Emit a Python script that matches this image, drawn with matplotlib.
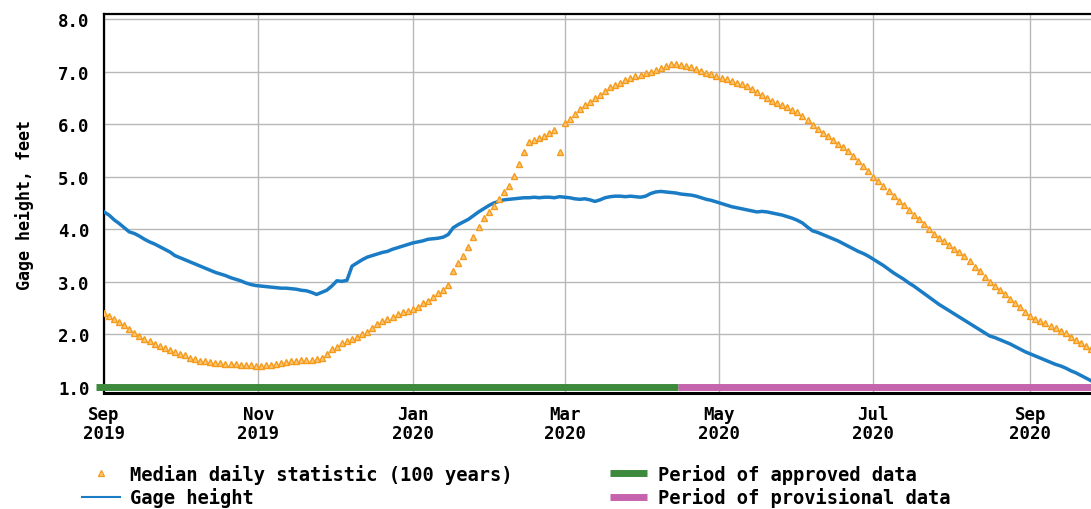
import numpy as np
import matplotlib
matplotlib.use('Agg')
import matplotlib.pyplot as plt
import pandas as pd
from matplotlib.lines import Line2D

# ---------------- data ----------------
start_date = '2019-09-01'
day_step = 2          # one reading every 2 days, from Sep 1 2019 to Sep 25 2020

median_daily_ft = [
    2.40, 2.35, 2.29, 2.24, 2.17, 2.10, 2.03, 1.97, 1.92, 1.87,
    1.82, 1.78, 1.74, 1.70, 1.66, 1.63, 1.60, 1.56, 1.53, 1.50,
    1.49, 1.48, 1.46, 1.45, 1.44, 1.44, 1.43, 1.42, 1.41, 1.41,
    1.40, 1.40, 1.41, 1.42, 1.44, 1.46, 1.48, 1.49, 1.50, 1.51,
    1.51, 1.52, 1.53, 1.55, 1.63, 1.72, 1.77, 1.83, 1.88, 1.92,
    1.96, 2.01, 2.05, 2.13, 2.20, 2.26, 2.30, 2.34, 2.38, 2.42,
    2.45, 2.48, 2.53, 2.59, 2.64, 2.71, 2.78, 2.85, 2.94, 3.21,
    3.35, 3.49, 3.67, 3.86, 4.05, 4.21, 4.33, 4.44, 4.57, 4.70,
    4.83, 5.01, 5.24, 5.47, 5.66, 5.70, 5.74, 5.77, 5.83, 5.88,
    5.47, 6.02, 6.10, 6.20, 6.29, 6.36, 6.42, 6.49, 6.55, 6.63,
    6.70, 6.75, 6.79, 6.84, 6.88, 6.91, 6.94, 6.97, 7.00, 7.03,
    7.07, 7.11, 7.14, 7.14, 7.12, 7.11, 7.08, 7.05, 7.01, 6.98,
    6.95, 6.91, 6.88, 6.85, 6.83, 6.79, 6.76, 6.73, 6.67, 6.62,
    6.56, 6.50, 6.44, 6.40, 6.36, 6.32, 6.27, 6.23, 6.15, 6.07,
    5.99, 5.91, 5.84, 5.77, 5.70, 5.63, 5.56, 5.49, 5.40, 5.30,
    5.20, 5.10, 5.00, 4.91, 4.82, 4.72, 4.63, 4.53, 4.46, 4.37,
    4.28, 4.19, 4.10, 4.00, 3.91, 3.84, 3.77, 3.70, 3.63, 3.56,
    3.49, 3.39, 3.29, 3.20, 3.10, 3.00, 2.92, 2.84, 2.76, 2.68,
    2.60, 2.52, 2.43, 2.35, 2.30, 2.26, 2.21, 2.16, 2.12, 2.07,
    2.02, 1.96, 1.90, 1.84, 1.78, 1.72,
]

gage_height_ft = [
    4.33, 4.27, 4.18, 4.11, 4.03, 3.95, 3.92, 3.87, 3.81, 3.76,
    3.72, 3.67, 3.62, 3.57, 3.50, 3.46, 3.42, 3.38, 3.34, 3.30,
    3.26, 3.22, 3.18, 3.15, 3.12, 3.08, 3.05, 3.02, 2.98, 2.95,
    2.93, 2.92, 2.91, 2.90, 2.89, 2.88, 2.88, 2.87, 2.86, 2.84,
    2.83, 2.80, 2.76, 2.80, 2.84, 2.92, 3.02, 3.01, 3.03, 3.30,
    3.36, 3.42, 3.47, 3.50, 3.53, 3.56, 3.58, 3.62, 3.65, 3.68,
    3.71, 3.74, 3.76, 3.78, 3.81, 3.82, 3.83, 3.85, 3.90, 4.03,
    4.09, 4.14, 4.19, 4.26, 4.33, 4.39, 4.45, 4.50, 4.53, 4.56,
    4.57, 4.58, 4.59, 4.60, 4.60, 4.61, 4.60, 4.61, 4.61, 4.60,
    4.62, 4.61, 4.60, 4.58, 4.57, 4.58, 4.56, 4.53, 4.56, 4.60,
    4.62, 4.63, 4.63, 4.62, 4.63, 4.62, 4.61, 4.63, 4.68, 4.71,
    4.72, 4.71, 4.70, 4.69, 4.67, 4.66, 4.65, 4.63, 4.60, 4.57,
    4.55, 4.52, 4.49, 4.46, 4.43, 4.41, 4.39, 4.37, 4.35, 4.33,
    4.34, 4.33, 4.31, 4.29, 4.27, 4.24, 4.21, 4.17, 4.12, 4.04,
    3.97, 3.94, 3.90, 3.86, 3.82, 3.78, 3.73, 3.68, 3.63, 3.58,
    3.54, 3.49, 3.43, 3.37, 3.31, 3.24, 3.17, 3.11, 3.05, 2.98,
    2.92, 2.85, 2.78, 2.71, 2.64, 2.57, 2.51, 2.45, 2.39, 2.33,
    2.27, 2.21, 2.15, 2.09, 2.03, 1.97, 1.94, 1.90, 1.86, 1.82,
    1.77, 1.72, 1.67, 1.63, 1.59, 1.55, 1.51, 1.47, 1.43, 1.40,
    1.36, 1.31, 1.27, 1.22, 1.17, 1.12,
]

approved_period = ['2019-08-29', '2020-04-15']
provisional_period = ['2020-04-15', '2020-09-26']
period_level = [1.0, 1.0]

tick_dates = ['2019-09-01', '2019-11-01', '2020-01-01', '2020-03-01',
              '2020-05-01', '2020-07-01', '2020-09-01']
tick_labels = ['Sep\n2019', 'Nov\n2019', 'Jan\n2020', 'Mar\n2020',
               'May\n2020', 'Jul\n2020', 'Sep\n2020']
y_ticks = [1.0, 2.0, 3.0, 4.0, 5.0, 6.0, 7.0, 8.0]
y_tick_labels = ['1.0', '2.0', '3.0', '4.0', '5.0', '6.0', '7.0', '8.0']
x_range = ['2019-09-01', '2020-09-25']
y_range = [0.886, 8.095]

# ---------------- styling ----------------
plt.rcParams['font.family'] = ['DejaVu Sans Mono']
plt.rcParams['font.weight'] = 'bold'

ORANGE_EDGE = '#f59a1b'
ORANGE_FACE = '#fcc877'
BLUE = '#1b7cc6'
GREEN = '#3d8a3d'
PINK = '#c563ad'
GRID = '#b8b8b8'

n = len(median_daily_ft)
dates = pd.Timestamp(start_date) + pd.to_timedelta(np.arange(n) * day_step, unit='D')

fig = plt.figure(figsize=(10.91, 5.10), dpi=100)
W, H = 1091, 510
ax = fig.add_axes([104 / W, (H - 394) / H, (W - 104) / W, (394 - 15) / H])

ax.grid(True, color=GRID, linewidth=1.0, zorder=0)
ax.set_axisbelow(True)

ax.plot(dates, gage_height_ft, color=BLUE, linewidth=2.5, zorder=3,
        label='Gage height')
ax.plot(dates, median_daily_ft, linestyle='none', marker='^', markersize=4.3,
        markerfacecolor=ORANGE_FACE, markeredgecolor=ORANGE_EDGE,
        markeredgewidth=1.0, zorder=4,
        label='Median daily statistic (100 years)')

ax.plot(pd.to_datetime(approved_period), period_level, color=GREEN,
        linewidth=5, solid_capstyle='butt', clip_on=False, zorder=5,
        label='Period of approved data')
ax.plot(pd.to_datetime(provisional_period), period_level, color=PINK,
        linewidth=5, solid_capstyle='butt', clip_on=False, zorder=5,
        label='Period of provisional data')

ax.set_xlim(pd.to_datetime(x_range))
ax.set_ylim(y_range)
ax.set_xticks(pd.to_datetime(tick_dates))
ax.set_xticklabels(tick_labels, fontsize=12.5, fontweight='bold',
                   linespacing=1.05)
ax.set_yticks(y_ticks)
ax.set_yticklabels(y_tick_labels, fontsize=12.5, fontweight='bold')
ax.tick_params(axis='both', length=0)
ax.tick_params(axis='y', pad=10.5)
ax.tick_params(axis='x', pad=9)

ax.spines['right'].set_visible(False)
ax.spines['left'].set_linewidth(1.6)
ax.spines['top'].set_linewidth(1.6)
ax.spines['bottom'].set_linewidth(2.2)

ax.set_ylabel('Gage height, feet', fontsize=12, fontweight='bold',
              labelpad=17)

handles = [
    Line2D([], [], linestyle='none', marker='^', markersize=4.5,
           markerfacecolor=ORANGE_FACE, markeredgecolor=ORANGE_EDGE,
           markeredgewidth=0.9),
    Line2D([], [], color=BLUE, linewidth=1.5),
    Line2D([], [], color=GREEN, linewidth=5, solid_capstyle='butt'),
    Line2D([], [], color=PINK, linewidth=5, solid_capstyle='butt'),
]
labels = ['Median daily statistic (100 years)', 'Gage height',
          'Period of approved data', 'Period of provisional data']
leg = fig.legend(handles, labels, ncol=2, loc='upper left',
                 bbox_to_anchor=(82 / W, (H - 465) / H), frameon=False,
                 prop={'family': 'DejaVu Sans Mono', 'weight': 'bold',
                       'size': 13.5},
                 handlelength=2.0, handletextpad=0.55, columnspacing=5.2,
                 labelspacing=0.18, borderaxespad=0, borderpad=0)

fig.savefig('out.png', dpi=100)
